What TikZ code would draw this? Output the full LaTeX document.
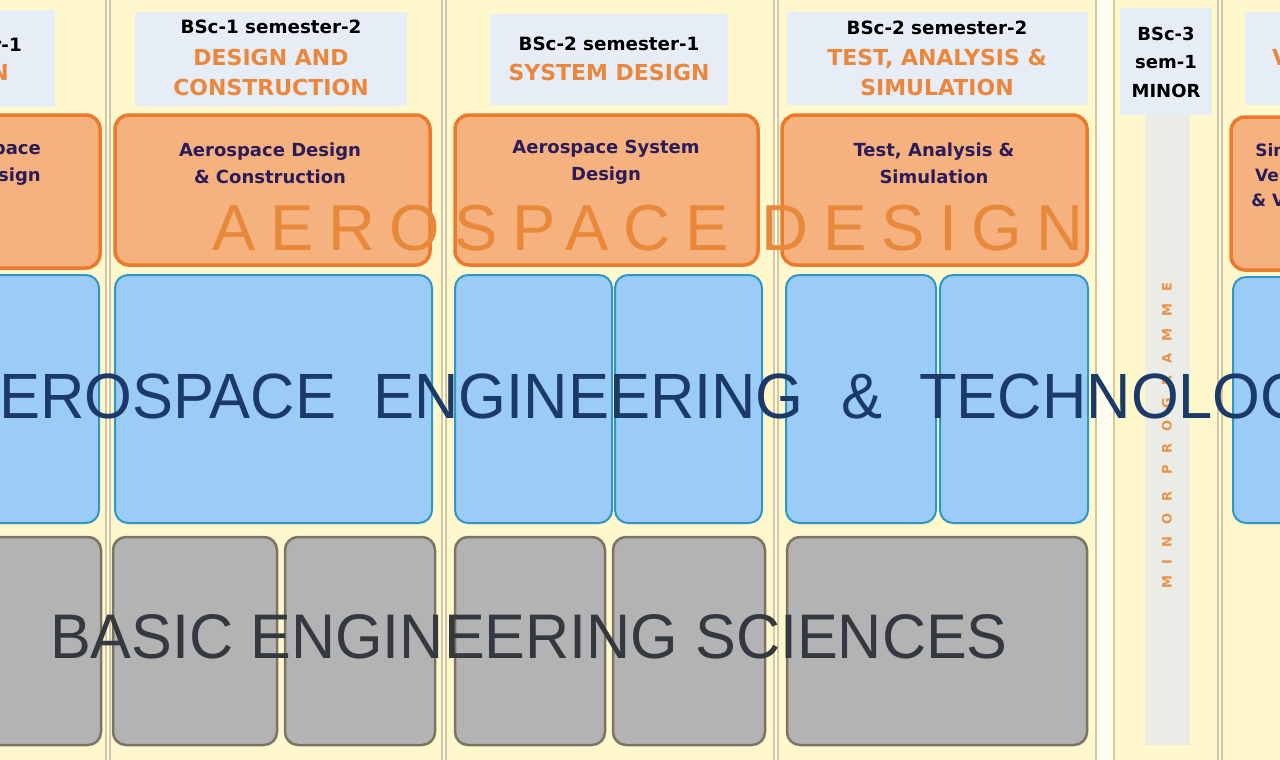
\documentclass[tikz,border=0pt]{standalone}
\usepackage{fontspec}
\setmainfont{Liberation Sans}
\newfontfamily\hdfont{DejaVu Sans}
\newfontfamily\bigfont{Liberation Sans}
\newfontfamily\spacedfont[LetterSpace=22.5]{Liberation Sans}
\newfontfamily\minorfont[LetterSpace=92]{DejaVu Sans}
\definecolor{pagebg}{HTML}{FFFDF0}
\definecolor{panelfill}{HTML}{FFF8CC}
\definecolor{panelline}{HTML}{D6C79E}
\definecolor{hdrfill}{HTML}{E7EDF7}
\definecolor{ofill}{HTML}{F5B27E}
\definecolor{oline}{HTML}{EC7A2C}
\definecolor{bfill}{HTML}{9BCBF7}
\definecolor{bline}{HTML}{2F97C6}
\definecolor{gfill}{HTML}{B3B3B3}
\definecolor{gline}{HTML}{7A7466}
\definecolor{hdorange}{HTML}{EB873C}
\definecolor{darkpurple}{HTML}{2B1C59}
\definecolor{bigblue}{HTML}{1B3A68}
\definecolor{biggray}{HTML}{34383F}
\definecolor{odesign}{HTML}{E8883A}
\definecolor{minorc}{HTML}{E8924A}
\definecolor{stripfill}{HTML}{ECECE6}
\definecolor{topband}{HTML}{F8EDB8}
\begin{document}
\begin{tikzpicture}[x=1pt,y=-1pt,
  panel/.style={draw=panelline,fill=panelfill,line width=1.5pt,inner sep=0pt},
  hdrbox/.style={fill=hdrfill,inner sep=0pt},
  obox/.style={draw=oline,fill=ofill,line width=3.5pt,rounded corners=14pt,inner sep=0pt},
  bbox/.style={draw=bline,fill=bfill,line width=2pt,rounded corners=13pt,inner sep=0pt},
  gbox/.style={draw=gline,fill=gfill,line width=2.5pt,rounded corners=13pt,inner sep=0pt},
  blacktitle/.style={inner sep=0pt,text=black,font=\hdfont\bfseries\fontsize{18.3}{28.5}\selectfont,align=center},
  orangetitle/.style={inner sep=0pt,text=hdorange,font=\hdfont\bfseries\fontsize{22}{30}\selectfont,align=center},
  boxtext/.style={inner sep=0pt,text=darkpurple,font=\hdfont\bfseries\fontsize{18}{27}\selectfont,align=center}]
\useasboundingbox (0,0) rectangle (1280,760);
\clip (0,0) rectangle (1280,760);
\fill[pagebg] (0,0) rectangle (1280,760);
% column panels
\node[panel,minimum width=126,minimum height=774] (p1) at (43,383) {};
\node[panel,minimum width=332,minimum height=774] (p2) at (276,383) {};
\node[panel,minimum width=328,minimum height=774] (p3) at (610,383) {};
\node[panel,minimum width=318,minimum height=774] (p4) at (937,383) {};
\node[panel,minimum width=104,minimum height=774] (p5) at (1166,383) {};
\node[panel,minimum width=88,minimum height=774] (p6) at (1266,383) {};
% header boxes
\node[hdrbox,minimum width=65,minimum height=97] (h1) at (22.5,58.5) {};
\node[hdrbox,minimum width=272,minimum height=94] (h2) at (271,59) {};
\node[hdrbox,minimum width=238,minimum height=91] (h3) at (609,59.5) {};
\node[hdrbox,minimum width=301,minimum height=93] (h4) at (937.5,58.5) {};
\node[hdrbox,minimum width=92,minimum height=107] (h5) at (1166,61.5) {};
\node[hdrbox,minimum width=75,minimum height=93] (h6) at (1282.5,58.5) {};
\node[fill=stripfill,inner sep=0pt,minimum width=45,minimum height=630] (ms) at (1167.5,430) {};
% header texts
\node[blacktitle,anchor=east] (t1a) at (22,45) {BSc-1 semester-1};
\node[orangetitle,anchor=east] (t1b) at (9,72) {INTRODUCTION};
\node[blacktitle] (t2a) at (271,27) {BSc-1 semester-2};
\node[orangetitle] (t2b) at (271,72) {DESIGN AND\\CONSTRUCTION};
\node[blacktitle] (t3a) at (609,44) {BSc-2 semester-1};
\node[orangetitle] (t3b) at (609,72) {SYSTEM DESIGN};
\node[blacktitle] (t4a) at (937,28) {BSc-2 semester-2};
\node[orangetitle] (t4b) at (937,72) {TEST, ANALYSIS \&\\SIMULATION};
\node[blacktitle,font=\hdfont\bfseries\fontsize{18}{28.5}\selectfont] (t5) at (1166,62) {BSc-3\\sem-1\\MINOR};
\node[orangetitle,anchor=west] (t6b) at (1272,57) {VERIFICATION \&};
% orange boxes
\node[obox,minimum width=120,minimum height=153] (o1) at (40,191.5) {};
\node[obox,minimum width=315,minimum height=150] (o2) at (272.5,190) {};
\node[obox,minimum width=303,minimum height=150] (o3) at (606.5,190) {};
\node[obox,minimum width=305,minimum height=150] (o4) at (934.5,190) {};
\node[obox,minimum width=89,minimum height=153] (o6) at (1275.5,193.5) {};
\node[boxtext,anchor=east,align=right] (o1t) at (41,163) {Aerospace\\Design};
\node[boxtext] (o2t) at (270,163) {Aerospace Design\\\& Construction};
\node[boxtext] (o3t) at (606,162) {Aerospace System\\Design};
\node[boxtext] (o4t) at (934,163) {Test, Analysis \&\\Simulation};
\node[boxtext,font=\hdfont\bfseries\fontsize{17}{25}\selectfont] (o6t) at (1310,175) {Simulation,\\Verification\\\& Validation};
% blue boxes
\node[bbox,minimum width=119,minimum height=248] (b1) at (39.5,399) {};
\node[bbox,minimum width=317,minimum height=248] (b2) at (273.5,399) {};
\node[bbox,minimum width=157,minimum height=248] (b3a) at (533.5,399) {};
\node[bbox,minimum width=147,minimum height=248] (b3b) at (688.5,399) {};
\node[bbox,minimum width=150,minimum height=248] (b4a) at (861,399) {};
\node[bbox,minimum width=148,minimum height=248] (b4b) at (1014,399) {};
\node[bbox,minimum width=87,minimum height=246] (b6) at (1276.5,400) {};
% grey boxes
\node[gbox,minimum width=121,minimum height=208] (g1) at (40.5,641) {};
\node[gbox,minimum width=164,minimum height=208] (g2a) at (195,641) {};
\node[gbox,minimum width=150,minimum height=208] (g2b) at (360,641) {};
\node[gbox,minimum width=150,minimum height=208] (g3a) at (530,641) {};
\node[gbox,minimum width=152,minimum height=208] (g3b) at (689,641) {};
\node[gbox,minimum width=300,minimum height=208] (g4) at (937,641) {};
% minor programme
\node[rotate=90,inner sep=0pt,text=minorc,font=\minorfont\bfseries\fontsize{13}{13}\selectfont] (mp) at (1167,436) {MINOR PROGRAMME};
% big overlay texts
\node[anchor=base west,inner sep=0pt,text=odesign,font=\spacedfont\fontsize{65}{65}\selectfont] (ad) at (212,250) {AEROSPACE DESIGN};
\node[anchor=base west,inner sep=0pt,text=bigblue,font=\bigfont\fontsize{64}{64}\selectfont] (aet) at (-42,418) {\scalebox{0.96}[1]{AEROSPACE\hspace{39pt}ENGINEERING\hspace{39pt}\&\hspace{39pt}TECHNOLOGY}};
\node[anchor=base west,inner sep=0pt,text=biggray,font=\bigfont\fontsize{63}{63}\selectfont] (bes) at (50,658) {\scalebox{0.97}[1]{BASIC ENGINEERING SCIENCES}};
\end{tikzpicture}
\end{document}
